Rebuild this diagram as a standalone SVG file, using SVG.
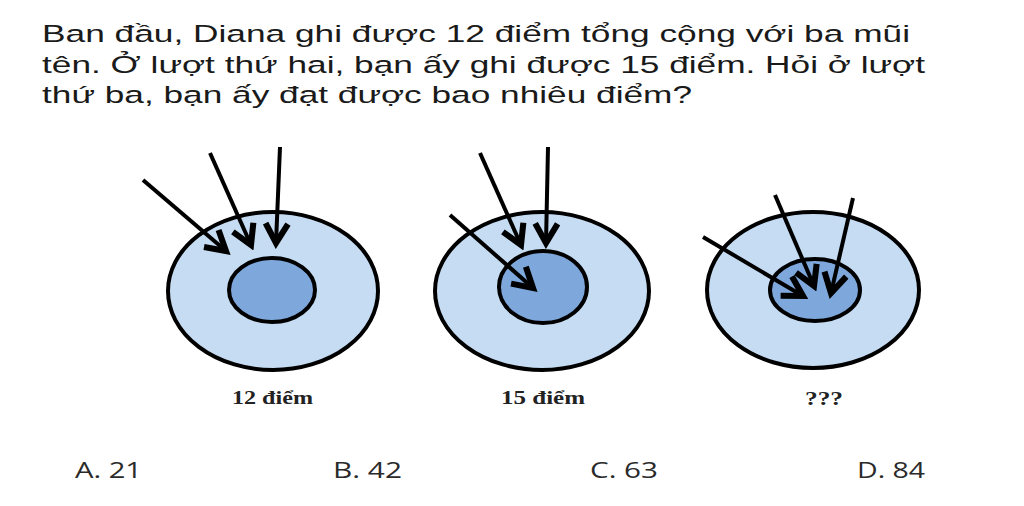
<svg xmlns="http://www.w3.org/2000/svg" width="1024" height="506" viewBox="0 0 1024 506">
<style>
.q{font-family:"Liberation Sans",Arial,sans-serif;font-size:24.5px;fill:#1a1a1a}
.lbl{font-family:"Liberation Serif","Times New Roman",serif;font-size:19px;font-weight:bold;fill:#222;text-anchor:start}
.ans{font-family:"Open Sans","Liberation Sans",sans-serif;font-size:22.5px;fill:#2a2a2a}
.outer{fill:#c6dcf2;stroke:#000;stroke-width:4}
.inner{fill:#7ea8dc;stroke:#000;stroke-width:4}
.arr{stroke:#000;stroke-width:4;fill:none;marker-end:url(#head)}
</style>
<defs>
<marker id="head" viewBox="0 0 12 12" refX="9.5" refY="6" markerWidth="7" markerHeight="7" orient="auto" markerUnits="strokeWidth">
<polyline points="1.2,1.2 9.5,6 1.2,10.8" fill="none" stroke="#000" stroke-width="2.6" stroke-linejoin="miter"/>
</marker>
</defs>
<rect width="1024" height="506" fill="#fff"/>
<g id="question">
<text class="q" x="42" y="42" textLength="868" lengthAdjust="spacingAndGlyphs">Ban đầu, Diana ghi được 12 điểm tổng cộng với ba mũi</text>
<text class="q" x="42" y="73" textLength="883" lengthAdjust="spacingAndGlyphs">tên. Ở lượt thứ hai, bạn ấy ghi được 15 điểm. Hỏi ở lượt</text>
<text class="q" x="42" y="103" textLength="650" lengthAdjust="spacingAndGlyphs">thứ ba, bạn ấy đạt được bao nhiêu điểm?</text>
</g>
<g id="target1">
<ellipse class="outer" cx="273" cy="291" rx="105" ry="79"/>
<ellipse class="inner" cx="272" cy="290" rx="43" ry="32"/>
<text class="lbl" x="232" y="404" textLength="81" lengthAdjust="spacingAndGlyphs">12 điểm</text>
</g>
<g id="target2">
<ellipse class="outer" cx="542" cy="291" rx="107" ry="79"/>
<ellipse class="inner" cx="543" cy="287" rx="44" ry="36"/>
<text class="lbl" x="501" y="404" textLength="84" lengthAdjust="spacingAndGlyphs">15 điểm</text>
</g>
<g id="target3">
<ellipse class="outer" cx="813" cy="290" rx="106" ry="78"/>
<ellipse class="inner" cx="815" cy="290" rx="45" ry="31"/>
<text class="lbl" x="805" y="405" textLength="38" lengthAdjust="spacingAndGlyphs">???</text>
</g>
<g id="connectors">
<line class="arr" x1="143" y1="180" x2="226" y2="251"/>
<line class="arr" x1="210" y1="153" x2="251" y2="245"/>
<line class="arr" x1="280" y1="147" x2="276" y2="243"/>
<line class="arr" x1="450" y1="215" x2="533" y2="288"/>
<line class="arr" x1="480" y1="153" x2="521" y2="245"/>
<line class="arr" x1="548" y1="147" x2="546" y2="243"/>
<line class="arr" x1="703" y1="237" x2="803" y2="296"/>
<line class="arr" x1="775" y1="195" x2="814" y2="286"/>
<line class="arr" x1="853" y1="198" x2="831" y2="293"/>
</g>
<g id="answers">
<text class="ans" x="75" y="478" textLength="67" lengthAdjust="spacingAndGlyphs">A. 21</text>
<text class="ans" x="333" y="478" textLength="69" lengthAdjust="spacingAndGlyphs">B. 42</text>
<text class="ans" x="590" y="478" textLength="68" lengthAdjust="spacingAndGlyphs">C. 63</text>
<text class="ans" x="857" y="478" textLength="68" lengthAdjust="spacingAndGlyphs">D. 84</text>
</g>
</svg>
